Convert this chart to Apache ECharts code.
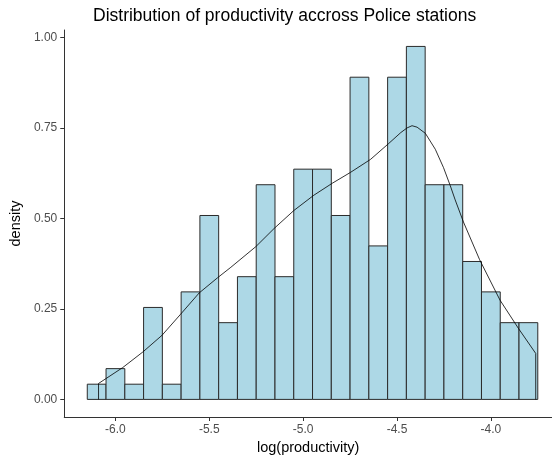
<!DOCTYPE html>
<html>
<head>
<meta charset="utf-8">
<script src="https://cdn.jsdelivr.net/npm/echarts@6/dist/echarts.min.js"></script>
<style>
html,body{margin:0;padding:0;background:#fff;}
#chart{width:552px;height:463px;}
</style>
</head>
<body>
<div id="chart"></div>
<script>
// Histogram bins (centers) and their density heights
const binCenters = [-6.1, -6.0, -5.9, -5.8, -5.7, -5.6, -5.5, -5.4, -5.3, -5.2, -5.1, -5.0,
                    -4.9, -4.8, -4.7, -4.6, -4.5, -4.4, -4.3, -4.2, -4.1, -4.0, -3.9, -3.8];
const binWidth = 0.1;
const histDensity = [0.042, 0.085, 0.042, 0.254, 0.042, 0.297, 0.508, 0.212, 0.339, 0.593, 0.339, 0.636,
                     0.636, 0.508, 0.890, 0.424, 0.890, 0.975, 0.593, 0.593, 0.381, 0.297, 0.212, 0.212];

// Kernel density curve, closed to zero at both ends
const densityX = [-6.090, -6.090, -5.961, -5.854, -5.752, -5.655, -5.554, -5.456, -5.385, -5.252, -5.155,
                  -5.049, -4.943, -4.845, -4.748, -4.641, -4.544, -4.480, -4.446, -4.420, -4.393, -4.349, -4.296,
                  -4.252, -4.216, -4.190, -4.146, -4.060, -3.951, -3.853, -3.761, -3.761];
const densityY = [0.000, 0.044, 0.088, 0.131, 0.177, 0.234, 0.294, 0.336, 0.365, 0.422, 0.472,
                  0.522, 0.564, 0.597, 0.627, 0.663, 0.707, 0.737, 0.750, 0.756, 0.752, 0.735, 0.691,
                  0.640, 0.590, 0.551, 0.490, 0.386, 0.274, 0.196, 0.127, 0.000];

const xTicks = [-6.0, -5.5, -5.0, -4.5, -4.0];
const yTicks = [0, 0.25, 0.5, 0.75, 1.0];

const histData = binCenters.map((c, i) => [c, histDensity[i]]);
const densData = densityX.map((x, i) => [x, densityY[i]]);

const chart = echarts.init(document.getElementById('chart'), null, {renderer: 'canvas'});
const axisColor = '#333333';
const labelColor = '#4d4d4d';
const font = 'Liberation Sans, Arial, sans-serif';

chart.setOption({
  animation: false,
  backgroundColor: '#ffffff',
  title: {
    text: 'Distribution of productivity accross Police stations',
    left: 88,
    top: 2,
    textStyle: {fontFamily: font, fontSize: 17.5, fontWeight: 'normal', color: '#000'}
  },
  grid: {left: 63, right: 0, top: 30, bottom: 46, containLabel: false},
  xAxis: {
    type: 'value',
    min: -6.2726,
    max: -3.6743,
    name: 'log(productivity)',
    nameLocation: 'middle',
    nameGap: 23,
    nameTextStyle: {fontFamily: font, fontSize: 14.5, color: '#000'},
    axisLine: {show: true, onZero: false, lineStyle: {color: axisColor, width: 1}},
    axisTick: {show: true, length: 4, lineStyle: {color: axisColor}, customValues: xTicks},
    axisLabel: {
      customValues: xTicks,
      formatter: v => v.toFixed(1),
      fontFamily: font, fontSize: 12, color: labelColor, margin: 7
    },
    splitLine: {show: false}
  },
  yAxis: {
    type: 'value',
    min: -0.0486,
    max: 1.0204,
    name: 'density',
    nameLocation: 'middle',
    nameGap: 38,
    nameRotate: 90,
    nameTextStyle: {fontFamily: font, fontSize: 14.5, color: '#000'},
    axisLine: {show: true, onZero: false, lineStyle: {color: axisColor, width: 1}},
    axisTick: {show: true, length: 4, lineStyle: {color: axisColor}, customValues: yTicks},
    axisLabel: {
      customValues: yTicks,
      formatter: v => v.toFixed(2),
      fontFamily: font, fontSize: 12, color: labelColor, margin: 7
    },
    splitLine: {show: false}
  },
  series: [
    {
      type: 'custom',
      data: histData,
      z: 2,
      renderItem: function (params, api) {
        const c = api.value(0), h = api.value(1);
        const p0 = api.coord([c - binWidth / 2, 0]);
        const p1 = api.coord([c + binWidth / 2, h]);
        return {
          type: 'rect',
          shape: {x: p0[0], y: p1[1], width: p1[0] - p0[0], height: p0[1] - p1[1]},
          style: {fill: '#ADD8E6', stroke: '#2b2b2b', lineWidth: 1}
        };
      }
    },
    {
      type: 'line',
      data: densData,
      z: 3,
      showSymbol: false,
      smooth: false,
      lineStyle: {color: '#000', width: 0.8}
    }
  ]
});
</script>
</body>
</html>
